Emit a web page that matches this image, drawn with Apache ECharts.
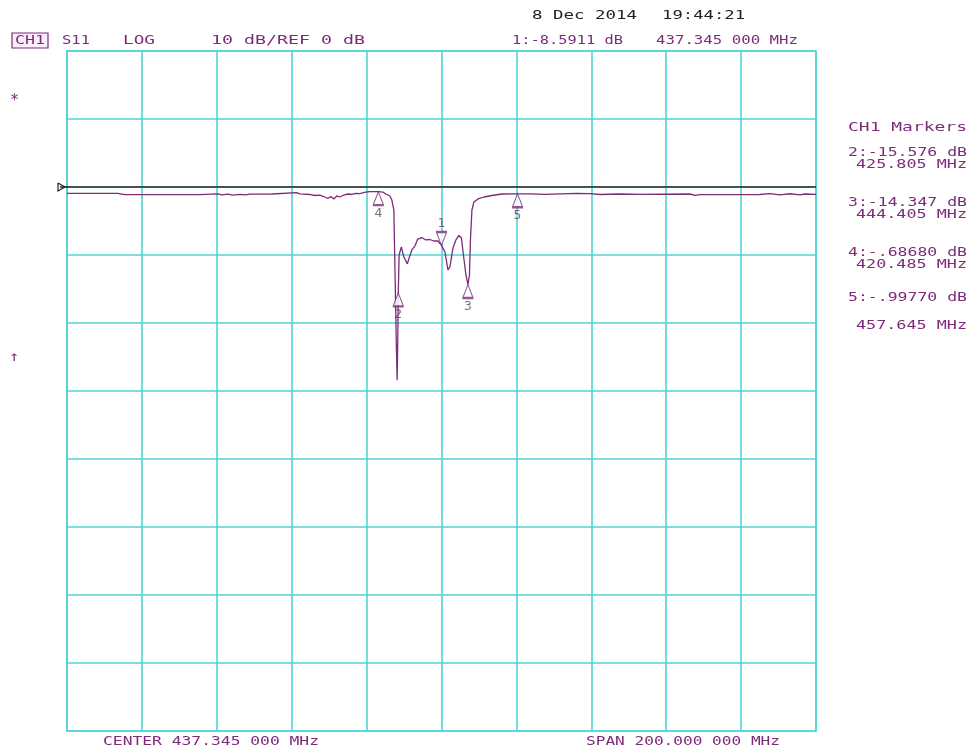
<!DOCTYPE html>
<html>
<head>
<meta charset="utf-8">
<script src="https://cdn.jsdelivr.net/npm/echarts@6/dist/echarts.min.js"></script>
<style>
  html, body { margin: 0; padding: 0; background: #ffffff; }
  #chart { width: 973px; height: 754px; }
</style>
</head>
<body>
<div id="chart"></div>
<script>
// S11 sweep, log magnitude, 10 dB/div, reference 0 dB
const CENTER_MHZ = 437.345;
const SPAN_MHZ = 200;

// Trace: frequency (MHz) and return loss (dB)
const traceFreq = [
  337.345, 350.89, 351.42, 352.76, 372.79, 373.06, 377.60, 378.67, 380.27, 381.61,
  383.48, 385.08, 386.15, 392.03, 392.56, 398.70, 399.50, 402.17, 403.50, 404.85,
  406.18, 406.98, 407.78, 408.58, 409.39, 410.19, 411.26, 412.33, 413.39, 414.46,
  415.53, 417.13, 418.20, 420.485, 421.68, 422.48, 423.01, 423.55, 424.08, 424.62,
  425.02, 425.28, 425.50, 425.68, 425.805, 426.03, 426.62, 427.29, 428.22, 428.89,
  429.43, 430.23, 431.03, 432.10, 433.17, 434.24, 435.31, 436.38, 437.345, 438.27,
  439.07, 439.60, 440.40, 441.20, 442.00, 442.67, 443.20, 443.87, 444.405, 444.81,
  445.07, 445.47, 446.01, 447.08, 448.68, 450.82, 453.49, 457.645, 460.94, 464.95,
  473.50, 476.97, 479.64, 484.98, 490.33, 503.68, 505.02, 506.35, 522.38, 525.05,
  527.72, 530.39, 533.06, 534.40, 537.345
];
const traceDb = [
  -0.93, -0.93, -1.07, -1.13, -1.13, -0.99, -1.01, -1.15, -1.06, -1.18,
  -1.07, -1.15, -1.06, -1.03, -0.84, -0.84, -1.00, -1.10, -1.25, -1.18,
  -1.47, -1.69, -1.40, -1.76, -1.32, -1.47, -1.18, -1.03, -1.10, -0.93,
  -0.96, -0.74, -0.69, -0.6868, -0.74, -1.03, -0.74, -1.32, -1.91, -3.38,
  -15.1, -23.2, -28.4, -21.8, -15.576, -10.0, -8.8, -10.3, -11.3, -10.1,
  -9.26, -8.68, -7.65, -7.43, -7.79, -7.72, -7.94, -7.94, -8.5911, -9.56,
  -12.2, -11.76, -8.97, -7.79, -7.13, -7.5, -10.0, -12.94, -14.347, -12.94,
  -7.79, -3.38, -2.21, -1.76, -1.47, -1.25, -1.03, -0.9977, -1.00, -1.07,
  -0.93, -0.96, -1.10, -1.03, -1.07, -1.03, -1.22, -1.13, -1.10, -0.96,
  -1.15, -0.99, -1.15, -1.03, -1.07
];

// Marker readouts
const markerIds = ['1', '2', '3', '4', '5'];
const markerFreqText = ['437.345', '425.805', '444.405', '420.485', '457.645'];
const markerDbText = ['-8.5911', '-15.576', '-14.347', '-.68680', '-.99770'];

// Axis scale: amplitude in dB, frequency as offset from centre in MHz
const yMin = -80, yMax = 20, yStep = 10;
const xHalf = SPAN_MHZ / 2, xStep = 20;

const PURPLE = '#7d2b79';
const GRIDC = '#52d3d6';
const FONT = '"DejaVu Sans Mono", "Liberation Mono", monospace';

const chart = echarts.init(document.getElementById('chart'));

const traceData = traceFreq.map((f, i) => [f - CENTER_MHZ, traceDb[i]]);

const markerData = markerIds.map((id, i) => {
  const active = i === 0;
  return {
    value: [Number(markerFreqText[i]) - CENTER_MHZ, Number(markerDbText[i])],
    symbolRotate: active ? 180 : 0,
    symbolOffset: active ? [0, -7] : [0, 7],
    label: { position: active ? 'top' : 'bottom', distance: 1, formatter: id }
  };
});

// text helpers: monospaced text stretched to the instrument's wide character cell
const mctx = document.createElement('canvas').getContext('2d');
function txt(str, x, yc, w, color, size) {
  size = size || 13;
  mctx.font = size + 'px ' + FONT;
  const mw = mctx.measureText(str).width;
  return {
    type: 'text', x: x, y: yc, scaleX: w / mw, z: 10,
    style: { text: str, fontSize: size, fontFamily: FONT, fill: color,
             align: 'left', verticalAlign: 'middle' }
  };
}

const graphics = [
  { type: 'rect', shape: { x: 12, y: 33, width: 36, height: 15 },
    style: { fill: '#fbeefb', stroke: PURPLE, lineWidth: 1.2 }, z: 9 },
  txt('CH1', 15, 40.5, 30, PURPLE),
  txt('S11', 62, 40.5, 28, PURPLE),
  txt('LOG', 123, 40.5, 32, PURPLE),
  txt('10 dB/REF 0 dB', 211, 40.5, 154, PURPLE),
  txt('8 Dec 2014', 532, 16, 105, '#222222'),
  txt('19:44:21', 662, 16, 83, '#222222'),
  txt('1:' + markerDbText[0] + ' dB', 512, 41, 111, PURPLE),
  txt(markerFreqText[0] + ' 000 MHz', 656, 41, 142, PURPLE),
  txt('CENTER ' + CENTER_MHZ.toFixed(3) + ' 000 MHz', 103, 742, 216, PURPLE),
  txt('SPAN ' + SPAN_MHZ.toFixed(3) + ' 000 MHz', 586, 742, 194, PURPLE),
  txt('CH1 Markers', 848, 128, 119, PURPLE),
  txt('*', 10, 101, 9, PURPLE, 16),
  txt('\u2191', 9, 357, 10, PURPLE, 14),
  // reference position flag
  { type: 'polyline', shape: { points: [[58, 183], [58, 191], [65, 187], [58, 183]] },
    style: { stroke: '#222', fill: '#fff', lineWidth: 1.2 }, z: 10 },
  { type: 'line', shape: { x1: 60, y1: 187, x2: 68, y2: 187 },
    style: { stroke: '#222', lineWidth: 1.5 }, z: 10 }
];

// marker readout block on the right
const readY = [[153, 165], [203, 215], [253, 265], [298, 326]];
for (let i = 1; i < markerIds.length; i++) {
  const [y1, y2] = readY[i - 1];
  graphics.push(txt(markerIds[i] + ':' + markerDbText[i] + ' dB', 848, y1, 119, PURPLE));
  graphics.push(txt(markerFreqText[i] + ' MHz', 856, y2, 111, PURPLE));
}

chart.setOption({
  backgroundColor: '#ffffff',
  animation: false,
  grid: { left: 67, top: 51, width: 749, height: 680, show: true,
          borderColor: GRIDC, borderWidth: 1.6, backgroundColor: 'transparent' },
  xAxis: {
    type: 'value', min: -xHalf, max: xHalf, interval: xStep,
    axisLine: { show: false }, axisTick: { show: false }, axisLabel: { show: false },
    splitLine: { show: true, lineStyle: { color: GRIDC, width: 1.6 } }
  },
  yAxis: {
    type: 'value', min: yMin, max: yMax, interval: yStep,
    axisLine: { show: false }, axisTick: { show: false }, axisLabel: { show: false },
    splitLine: { show: true, lineStyle: { color: GRIDC, width: 1.6 } }
  },
  series: [
    {
      type: 'line', data: traceData, symbol: 'none', z: 3,
      lineStyle: { color: PURPLE, width: 1.3 },
      markLine: {
        silent: true, symbol: 'none', label: { show: false },
        lineStyle: { color: '#2a2a2a', width: 1.5, type: 'solid' },
        data: [{ yAxis: 0 }]
      }
    },
    {
      type: 'scatter', data: markerData, z: 5,
      symbol: 'path://M5,0 L9.5,11 L0.5,11 Z M0,12 L10,12',
      symbolSize: [11, 14],
      itemStyle: { color: '#ffffff', borderColor: PURPLE, borderWidth: 1.1 },
      label: { show: true, color: '#5c4a5c', fontSize: 13, fontFamily: FONT }
    }
  ],
  graphic: graphics
});
</script>
</body>
</html>
